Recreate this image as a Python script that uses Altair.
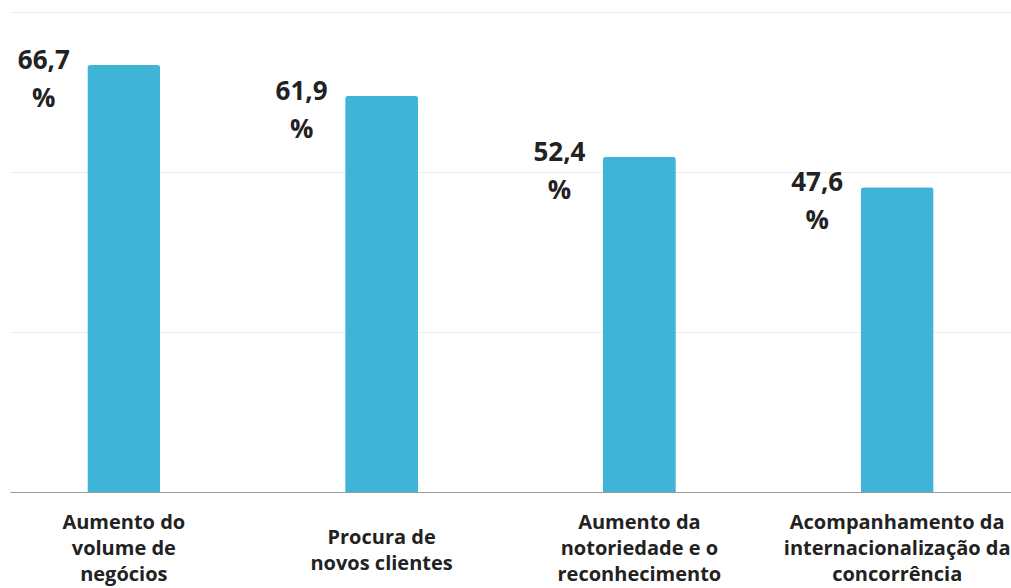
import altair as alt
import pandas as pd

categories = [
    "Aumento do\nvolume de\nnegócios",
    "Procura de\nnovos clientes",
    "Aumento da\nnotoriedade e o\nreconhecimento",
    "Acompanhamento da\ninternacionalização da\nconcorrência",
]
values = [66.7, 61.9, 52.4, 47.6]
value_labels = ["66,7\n%", "61,9\n%", "52,4\n%", "47,6\n%"]

df = pd.DataFrame({"cat": categories, "val": values, "lab": value_labels})

FONT = "Open Sans"
BAR = "#40B4D6"
TXT = "#222222"

x_enc = alt.X(
    "cat:N",
    sort=categories,
    title=None,
    scale=alt.Scale(paddingInner=0.717, paddingOuter=0.3),
    axis=alt.Axis(
        labelAngle=0,
        labelExpr="split(datum.label, '\\n')",
        labelFont=FONT,
        labelFontSize=20,
        labelFontWeight="bold",
        labelColor=TXT,
        labelLineHeight=26,
        labelBaseline="middle",
        labelPadding={
            "condition": {"test": "indexof(datum.label, 'Procura') >= 0", "value": 45},
            "value": 30,
        },
        labelLimit=400,
        ticks=False,
        domain=True,
        domainColor="#9a9a9a",
        domainWidth=1.2,
        grid=False,
    ),
)

y_enc = alt.Y(
    "val:Q",
    title=None,
    scale=alt.Scale(domain=[0, 75], nice=False),
    axis=alt.Axis(
        values=[0, 25, 50, 75],
        labels=False,
        ticks=False,
        domain=False,
        grid=True,
        gridColor="#ececec",
        gridWidth=1,
    ),
)

bars = alt.Chart(df).mark_bar(
    color=BAR, cornerRadiusTopLeft=3, cornerRadiusTopRight=3
).encode(x=x_enc, y=y_enc)

labels = alt.Chart(df).mark_text(
    font=FONT,
    fontSize=26,
    fontWeight="bold",
    color=TXT,
    align="center",
    baseline="alphabetic",
    lineBreak="\n",
    lineHeight=38,
    dx=-80,
    dy=4,
).encode(
    x=alt.X("cat:N", sort=categories),
    y=alt.Y("val:Q"),
    text="lab:N",
)

chart = (
    alt.layer(bars, labels)
    .properties(
        width=1001,
        height=480,
        autosize=alt.AutoSizeParams(type="none"),
        padding={"left": 10, "top": 12, "right": 0, "bottom": 96},
        background="white",
    )
    .configure_view(stroke=None)
)

chart.save("out.html", embed_options={"renderer": "svg", "actions": False})
